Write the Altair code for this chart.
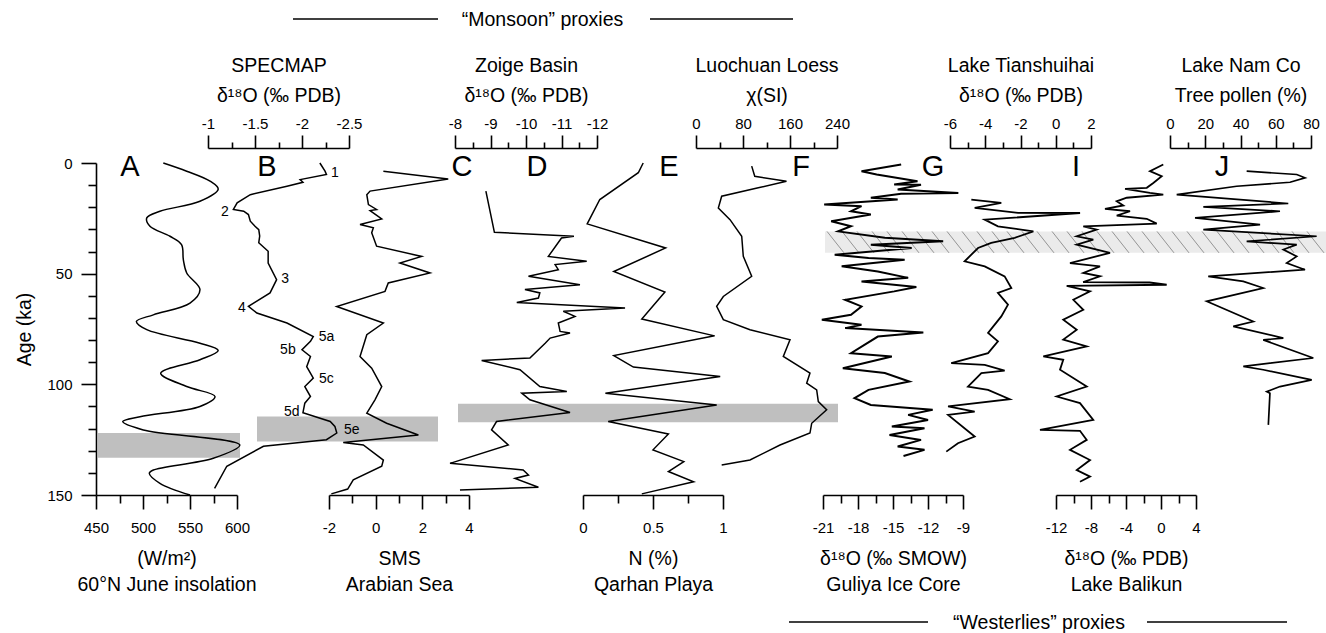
import altair as alt
import pandas as pd

FONT = "Liberation Sans"
W, H = 1230, 332

# ---------------- data (ages in ka, values in proxy units) ----------------
ins_age = [0, 3.7, 8.2, 11.8, 17.3, 21.8, 24.8, 28.6, 33.1, 36.9, 43.7, 49.7, 57.2, 63.3, 68.6, 71.6, 75.3,
           81.4, 84.7, 88.9, 95.0, 101.0, 105.5, 110.0, 114.6, 116.8, 120.6, 127.4, 133.4, 138.7, 140.2, 144.7, 150]
ins_val = [521.6, 546.5, 571.3, 580, 560.6, 518, 504, 507.4, 528.7, 541, 542.9, 546.5, 560.6, 550, 511, 493, 504,
           560.6, 580, 560.6, 518.8, 546.5, 576.6, 560.6, 496.8, 478.4, 500.3, 603, 574.8, 511, 506.7, 518, 550]

spec_age = [0, 3.7, 5.2, 7.5, 8.7, 10.5, 14.3, 18.0, 21.0, 21.8, 23.3, 26.3, 28.6, 30.1, 33.0, 36.0, 39.9, 45.2, 52.7,
            58.7, 64.8, 67.8, 72.3, 78.4, 80.6, 84.4, 87.4, 92.0, 97.2, 101.0, 105.5, 108.5, 112.8, 116.8, 119.0,
            122.0, 125.0, 128.0, 137.0, 147.0]
spec_val = [-2.19, -2.245, -2.26, -1.98, -2.01, -1.84, -1.45, -1.31, -1.27, -1.38, -1.43, -1.45, -1.5, -1.54, -1.55,
            -1.54, -1.64, -1.64, -1.73, -1.66, -1.43, -1.52, -1.84, -2.12, -2.09, -2.0, -2.09, -2.05, -2.12, -2.03,
            -2.09, -2.03, -2.01, -2.3, -2.35, -2.37, -2.26, -1.59, -1.2, -1.07]

stage_lab = ["1", "2", "3", "4", "5a", "5b", "5c", "5d", "5e"]
stage_age = [4.4, 22.3, 52.4, 65.5, 78.7, 84.4, 97.7, 112.3, 120.6]
stage_val = [-2.35, -1.18, -1.82, -1.36, -2.26, -1.85, -2.26, -1.89, -2.53]

sms_age = [3.7, 7.2, 12.7, 14.3, 18.8, 21.0, 21.5, 25.3, 27.8, 29.3, 31.5, 37.6, 42.2, 45.2, 49.7, 54.2, 58.0,
           64.8, 72.3, 77.6, 87.4, 92.7, 101.0, 107.0, 113.0, 117.6, 122.9, 126.3, 127.4, 134.2, 137.0, 143.2,
           147.3, 149.5]
sms_val = [0.33, 3.11, -0.24, -0.38, -0.31, 0.04, -0.24, 0.26, -0.67, -0.1, -0.17, 0.04, 1.97, 1.04, 2.33, 0.54,
           0.4, -1.67, 0.33, -0.38, -0.67, -0.17, 0.26, -0.03, -0.38, 0.47, 1.83, -1.39, -0.53, 0.33, 0.26, -0.96,
           -1.2, -1.9]

zoige_age = [12.7, 31.3, 33.1, 33.9, 42.2, 44.4, 45.9, 48.2, 51.2, 55.0, 57.2, 58.7, 61.0, 63.0, 65.5, 67.0, 69.3,
             72.3, 76.1, 76.8, 79.1, 81.4, 88.1, 89.2, 93.4, 101.0, 103.2, 104.0, 107.0, 112.7, 116.8, 120.6,
             127.4, 135.7, 138.7, 141.0, 142.5, 146.5, 147.7]
zoige_val = [-8.87, -9.11, -11.35, -11.0, -10.63, -11.71, -10.82, -10.91, -10.07, -11.52, -9.97, -10.39, -10.35,
             -9.74, -12.79, -11.05, -11.38, -10.91, -10.96, -11.24, -10.68, -10.54, -10.11, -8.75, -9.83, -10.39,
             -11.15, -9.88, -10.11, -11.24, -9.17, -9.03, -9.5, -7.86, -9.92, -10.07, -9.69, -10.35, -8.14]

qar_age = [0, 4.4, 16.5, 27.5, 38.4, 49.0, 58.3, 70.5, 78.1, 87.0, 92.2, 96.5, 104.0, 109.3, 116.8, 122.4, 129.6,
           134.9, 139.4, 144.0, 149.5]
qar_val = [0.43, 0.395, 0.12, 0.03, 0.59, 0.22, 0.585, 0.42, 0.94, 0.22, 0.36, 0.98, 0.16, 0.955, 0.18, 0.61, 0.50,
           0.72, 0.61, 0.79, 0.42]

lc_age = [1.4, 6.0, 8.2, 11.2, 15.0, 20.3, 25.6, 33.1, 42.2, 51.2, 60.3, 64.8, 70.8, 75.3, 79.9, 87.4, 94.9, 99.5,
          102.5, 107.8, 111.5, 117.6, 122.0, 127.4, 134.2, 136.4]
lc_val = [94.8, 100, 154, 106, 43.7, 38, 57.9, 77.8, 80.5, 94.8, 46.5, 35.2, 46.5, 91.9, 160, 148.6, 194, 188.4,
          205.4, 208.2, 222.4, 196.9, 194, 143, 91.9, 43.7]

gul_age = [0.7, 3.7, 5.2, 8.2, 9.7, 9.8, 12.0, 13.5, 13.9, 15.7, 16.5, 18.8, 19.5, 21.8, 23.3, 26.3, 28.6, 30.9,
           33.8, 35.4, 36.9, 38.4, 41.4, 42.9, 43.7, 46.7, 49.0, 51.9, 53.5, 56.0, 58.0, 61.8, 64.8, 68.6, 70.8,
           73.1, 74.6, 76.6, 78.4, 85.9, 87.4, 92.7, 94.9, 98.7, 102.5, 106.2, 109.3, 111.5, 113.8, 116.1, 119.1,
           119.8, 122.9, 125.1, 128.1, 129.6, 132.4]
gul_val = [-14.3, -17.7, -16.4, -12.9, -14.9, -12.6, -14.6, -9.4, -14.3, -16.9, -14.6, -20.9, -17.7, -18.6, -16.9,
           -20.3, -18.6, -19.7, -15.7, -10.7, -16.9, -13.4, -20.0, -17.1, -14.0, -19.4, -16.3, -13.7, -17.7, -13.0,
           -14.9, -19.1, -17.7, -18.6, -21.1, -17.7, -19.1, -12.4, -16.3, -18.6, -15.1, -19.3, -15.7, -13.6, -17.1,
           -18.3, -16.9, -11.6, -13.7, -12.0, -15.1, -12.3, -15.3, -12.6, -14.6, -12.3, -14.1]

tsh_age = [16.5, 18.0, 20.3, 22.5, 22.6, 25.6, 28.6, 30.9, 33.8, 36.1, 38.4, 44.4, 46.7, 51.2, 56.5, 58.7, 64.0,
           69.3, 76.8, 80.6, 85.9, 90.4, 91.2, 93.8, 94.9, 101.0, 102.5, 106.7, 110.0, 112.3, 113.8, 123.6, 126.6,
           130.4]
tsh_val = [-4.79, -3.09, -4.6, -2.14, 1.38, -4.03, -3.28, -1.27, -2.33, -3.66, -4.41, -5.17, -4.03, -2.9, -2.52,
           -3.28, -2.71, -3.09, -3.84, -3.28, -3.84, -5.93, -4.03, -2.9, -4.22, -4.98, -3.84, -2.61, -6.11, -4.6,
           -6.11, -4.6, -5.55, -6.21]

bal_age = [0.7, 3.7, 6.0, 9.0, 11.2, 11.7, 13.5, 14.3, 15.7, 17.3, 19.2, 20.7, 21.8, 23.8, 25.2, 27.4, 28.6, 30.1,
           33.1, 34.6, 36.9, 40.6, 45.2, 46.7, 49.7, 51.2, 53.8, 54.0, 55.0, 55.5, 58.0, 61.8, 66.3, 70.8, 75.3,
           79.8, 82.9, 87.4, 88.9, 93.4, 101.0, 105.5, 108.5, 116.1, 120.6, 121.0, 125.1, 129.6, 134.2, 138.7,
           141.7, 144.0]
bal_val = [0.26, -1.26, 0.08, -0.88, -1.63, -4.11, -1.26, 0.26, -3.92, -5.06, -4.31, -6.4, -3.54, -5.06, -1.63,
           -0.49, -8.88, -7.35, -9.63, -7.74, -9.63, -5.83, -10.4, -6.97, -8.88, -6.97, -8.9, -1.3, 0.65, -10.78,
           -8.11, -10.02, -8.88, -11.17, -9.63, -11.17, -8.49, -13.45, -11.17, -11.54, -8.49, -11.92, -9.26, -7.74,
           -13.83, -9.26, -8.49, -10.4, -8.11, -9.63, -8.11, -9.26]

nam_age = [3.7, 5.2, 6.7, 8.7, 10.5, 14.3, 18.3, 19.8, 21.8, 24.8, 27.8, 30.1, 33.1, 35.4, 36.9, 39.1, 42.2, 45.2,
           48.2, 51.2, 53.5, 56.5, 62.5, 71.6, 73.8, 79.1, 79.9, 88.1, 91.9, 93.4, 98.0, 101.0, 103.3, 104.0, 118.3]
nam_val = [43.5, 71.9, 76.6, 68.1, 37.8, 3.8, 67.1, 18.9, 62.4, 14.2, 51.1, 18.9, 83.2, 43.5, 71.9, 64.3, 71.9,
           66.2, 76.6, 21.7, 41.6, 52.9, 20.8, 47.3, 35.9, 64.3, 52.9, 81.3, 41.6, 52.9, 80.4, 62.4, 54.9, 56.7, 55.8]

band_start = [122.0, 114.5, 108.8]
band_end = [133.2, 125.8, 117.1]
hatch_start, hatch_end = 30.9, 40.6

letters = ["A", "B", "C", "D", "E", "F", "G", "I", "J"]

# ---------------- helpers ----------------
yscale = alt.Scale(domain=[0, 150], reverse=True, nice=False, zero=False)

yaxis = alt.Axis(
    orient="left", values=list(range(0, 151, 10)), title="Age (ka)",
    labelExpr="indexof([0,50,100,150], datum.value) >= 0 ? '' + datum.value : ''",
    tickSize={"expr": "indexof([0,50,100,150], datum.value) >= 0 ? 15 : 8"},
    labelPadding=9, titlePadding=12,
)


def Y(field="age"):
    return alt.Y(f"{field}:Q", scale=yscale, axis=yaxis)


def js_arr(v):
    return "[" + ",".join(str(x) for x in v) + "]"


def xaxis(top, majors, minors, title):
    test = f"indexof({js_arr(majors)}, datum.value) >= 0"
    return alt.Axis(
        orient="top" if top else "bottom",
        values=sorted(majors + minors),
        title=title,
        labelExpr=f"{test} ? '' + datum.value : ''",
        tickSize={"expr": f"{test} ? {13 if top else 14} : {6 if top else 8}"},
        offset=15 if top else 0,
        labelPadding=4 if top else 11,
        titlePadding=11 if top else 14,
        titleLineHeight=30 if top else 26,
    )


def xs(domain, rng):
    return alt.Scale(domain=domain, range=rng, nice=False, zero=False)


def curve(ages, vals, scale, axis, sw=1.5, interp="linear"):
    df = pd.DataFrame({"age": ages, "val": vals, "i": list(range(len(ages)))})
    return alt.Chart(df).mark_line(color="black", strokeWidth=sw, interpolate=interp).encode(
        x=alt.X("val:Q", scale=scale, axis=axis),
        y=Y("age"),
        order=alt.Order("i:Q"),
    )


D18 = "\u03b4\u00b9\u2078O"

# ---------------- scales ----------------
s_ins = xs([450, 600], [0, 141])
s_spec = xs([-2.5, -1], [253, 112])
s_sms = xs([-2, 4], [233, 373])
s_zoi = xs([-12, -8], [501, 359])
s_qar = xs([0, 1], [487, 627])
s_lc = xs([0, 240], [600, 741])
s_gul = xs([-21, -9], [727, 867])
s_tsh = xs([-6, 2], [854, 995])
s_bal = xs([-12, 4], [960, 1100])
s_nam = xs([0, 80], [1074, 1215])

layers = []

# gray bands
band_px = [(2, 144), (161, 342), (362, 742)]
for (x0, x1), a0, a1 in zip(band_px, band_start, band_end):
    layers.append(
        alt.Chart(pd.DataFrame({"a0": [a0], "a1": [a1]})).mark_rect(color="#bfbfbf").encode(
            x=alt.value(x0), x2=alt.value(x1), y=Y("a0"), y2="a1:Q")
    )

# hatched band
layers.append(
    alt.Chart(pd.DataFrame({"a0": [hatch_start], "a1": [hatch_end]})).mark_rect(color="#ebebeb").encode(
        x=alt.value(729), x2=alt.value(W), y=Y("a0"), y2="a1:Q")
)
hx = list(range(731, W - 17, 15))
hatch_df = pd.DataFrame({"hx": hx, "hx2": [h + 17 for h in hx],
                         "a0": [hatch_start] * len(hx), "a1": [hatch_end] * len(hx)})
layers.append(
    alt.Chart(hatch_df).mark_rule(color="#8a8a8a", strokeWidth=0.9).encode(
        x=alt.X("hx:Q", scale=alt.Scale(domain=[0, W], range=[0, W], nice=False, zero=False), axis=None),
        x2="hx2:Q", y=Y("a0"), y2="a1:Q")
)

# curves
layers.append(curve(ins_age, ins_val, s_ins,
                    xaxis(False, [450, 500, 550, 600], [475, 525, 575], ["(W/m\u00b2)", "60\u00b0N June insolation"]),
                    interp="catmull-rom"))
layers.append(curve(spec_age, spec_val, s_spec,
                    xaxis(True, [-1, -1.5, -2, -2.5], [-1.25, -1.75, -2.25], ["SPECMAP", f"{D18} (\u2030 PDB)"])))
layers.append(curve(sms_age, sms_val, s_sms,
                    xaxis(False, [-2, 0, 2, 4], [-1, 1, 3], ["SMS", "Arabian Sea"])))
layers.append(curve(zoige_age, zoige_val, s_zoi,
                    xaxis(True, [-8, -9, -10, -11, -12], [-8.5, -9.5, -10.5, -11.5],
                          ["Zoige Basin", f"{D18} (\u2030 PDB)"])))
layers.append(curve(qar_age, qar_val, s_qar,
                    xaxis(False, [0, 0.5, 1], [0.25, 0.75], ["N (%)", "Qarhan Playa"])))
layers.append(curve(lc_age, lc_val, s_lc,
                    xaxis(True, [0, 80, 160, 240], [40, 120, 200], ["Luochuan Loess", "\u03c7(SI)"])))
layers.append(curve(gul_age, gul_val, s_gul,
                    xaxis(False, [-21, -18, -15, -12, -9], [-19.5, -16.5, -13.5, -10.5],
                          [f"{D18} (\u2030 SMOW)", "Guliya Ice Core"]), sw=2.0))
layers.append(curve(tsh_age, tsh_val, s_tsh,
                    xaxis(True, [-6, -4, -2, 0, 2], [-5, -3, -1, 1],
                          ["Lake Tianshuihai", f"{D18} (\u2030 PDB)"]), sw=1.8))
layers.append(curve(bal_age, bal_val, s_bal,
                    xaxis(False, [-12, -8, -4, 0, 4], [-10, -6, -2, 2],
                          [f"{D18} (\u2030 PDB)", "Lake Balikun"]), sw=1.8))
layers.append(curve(nam_age, nam_val, s_nam,
                    xaxis(True, [0, 20, 40, 60, 80], [10, 30, 50, 70],
                          ["Lake Nam Co", "Tree pollen (%)"]), sw=1.7))

# SPECMAP stage labels
layers.append(
    alt.Chart(pd.DataFrame({"age": stage_age, "val": stage_val, "lab": stage_lab})).mark_text(
        font=FONT, fontSize=14, color="black", align="center", baseline="middle").encode(
        x=alt.X("val:Q", scale=s_spec, axis=None), y=Y("age"), text="lab:N")
)

# panel letters
letter_px = [34, 171, 366, 441, 573, 705, 837, 980, 1126]
for let, px in zip(letters, letter_px):
    layers.append(
        alt.Chart(pd.DataFrame({"t": [let]})).mark_text(
            font=FONT, fontSize=29, color="black", align="center", baseline="middle").encode(
            x=alt.value(px), y=alt.value(4), text="t:N")
    )


# group headers
def header(text, cx, cy, segs):
    out = [alt.Chart(pd.DataFrame({"t": [text]})).mark_text(
        font=FONT, fontSize=19.5, color="black", align="center", baseline="middle").encode(
        x=alt.value(cx), y=alt.value(cy), text="t:N")]
    for x0, x1 in segs:
        out.append(alt.Chart(pd.DataFrame({"t": [0]})).mark_rule(color="black", strokeWidth=1.3).encode(
            x=alt.value(x0), x2=alt.value(x1), y=alt.value(cy - 1)))
    return out


layers += header("\u201cMonsoon\u201d proxies", 446.5, -143, [(197, 342), (554, 697)])
layers += header("\u201cWesterlies\u201d proxies", 943, 460, [(693, 832), (1051, 1191)])

chart = alt.layer(*layers).resolve_scale(x="independent").resolve_axis(x="independent").properties(
    width=W, height=H,
    background="white",
    autosize=alt.AutoSizeParams(type="none"),
    padding={"left": 96, "top": 163, "right": 0, "bottom": 138},
).configure_axis(
    domainColor="black", tickColor="black", labelColor="black", titleColor="black",
    labelFont=FONT, titleFont=FONT, labelFontSize=15, titleFontSize=19.5, titleFontWeight="normal",
    labelFlush=False, labelOverlap=False, labelBound=False, grid=False,
    domainWidth=1.6, tickWidth=1.6,
).configure_view(stroke=None)

chart.save("out.html", embed_options={"renderer": "svg", "actions": False})
